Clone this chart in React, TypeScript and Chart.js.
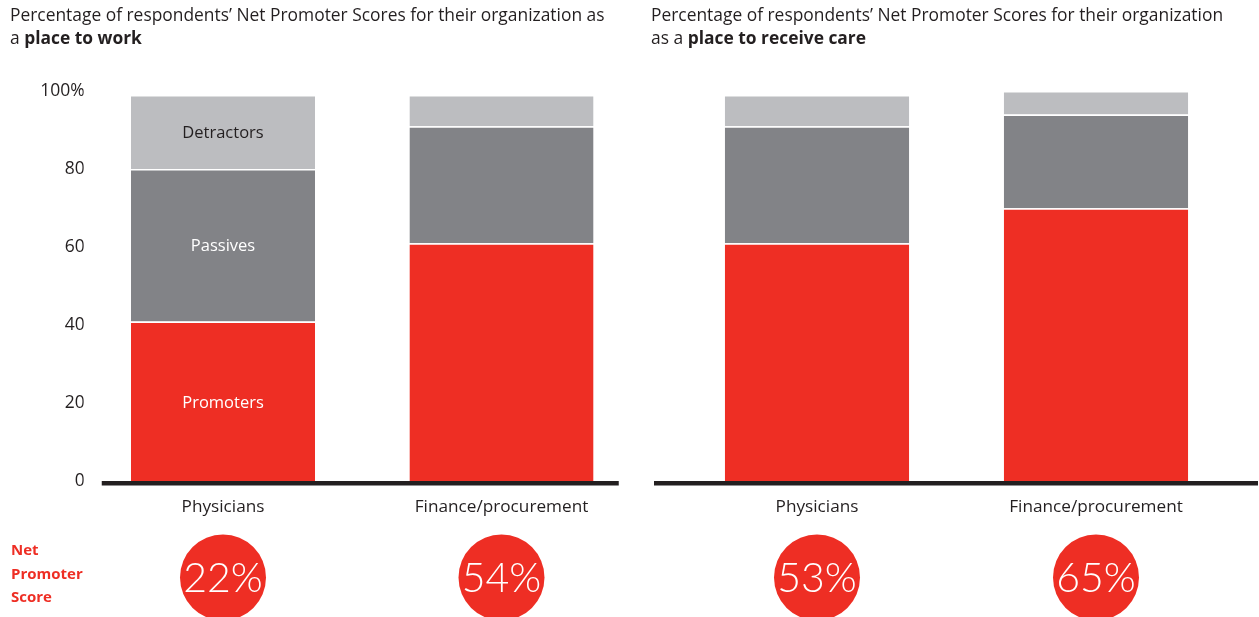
import React, { useEffect, useRef } from "react";
import { Chart, registerables } from "chart.js";

Chart.register(...registerables);

const categories = ["Physicians", "Finance/procurement"];
const segmentNames = ["Promoters", "Passives", "Detractors"];

const workPromoters = [41, 61];
const workPassives = [39, 30];
const workDetractors = [19, 8];
const workNps = [22, 54];

const carePromoters = [61, 70];
const carePassives = [30, 24];
const careDetractors = [8, 6];
const careNps = [53, 65];

const yTicks = [0, 20, 40, 60, 80, 100];

const RED = "#EE2E24";
const DARK = "#828387";
const LIGHT = "#BCBDC0";
const INK = "#231F20";
const FONT = "'Open Sans', Lato, sans-serif";
const NUMFONT = "Lato, 'Open Sans', sans-serif";

const overlayPlugin = {
  id: "overlay",
  afterDatasetsDraw(chart: any, _args: any, opts: any) {
    const { ctx, chartArea, scales } = chart;
    const x = scales.x;
    ctx.save();
    // baseline
    ctx.fillStyle = INK;
    const bl = chartArea.left + opts.baseFrom;
    const br = chartArea.right + opts.baseTo;
    ctx.fillRect(bl, chartArea.bottom - 0.5, br - bl, 4.5);
    // segment labels in first bar
    if (opts.showSegLabels) {
      chart.data.datasets.forEach((ds: any, di: number) => {
        const meta = chart.getDatasetMeta(di);
        const el = meta.data[0];
        const yMid = (el.y + el.base) / 2;
        ctx.font = `16.5px ${FONT}`;
        ctx.textAlign = "center";
        ctx.textBaseline = "middle";
        ctx.fillStyle = di === 2 ? INK : "#FFFFFF";
        ctx.fillText(ds.label, el.x, yMid + 1.5);
      });
    }
    // NPS circles
    const nps: number[] = opts.nps;
    nps.forEach((v, i) => {
      const cx = x.getPixelForValue(i);
      const cy = chartArea.bottom + opts.circleOffset;
      ctx.beginPath();
      ctx.arc(cx, cy, 43, 0, Math.PI * 2);
      ctx.fillStyle = RED;
      ctx.fill();
      ctx.fillStyle = "#FFFFFF";
      ctx.font = `300 41px ${NUMFONT}`;
      ctx.textAlign = "center";
      ctx.textBaseline = "middle";
      ctx.fillText(`${v}%`, cx, cy + 1);
    });
    ctx.restore();
  },
};

function makeConfig(
  prom: number[],
  pass: number[],
  det: number[],
  nps: number[],
  showY: boolean,
  padding: any,
  baseFrom: number,
  baseTo: number
): any {
  const seg = (label: string, data: number[], color: string) => ({
    label,
    data,
    backgroundColor: color,
    borderColor: "#FFFFFF",
    borderWidth: { top: 1.5, bottom: 0, left: 0, right: 0 },
    borderSkipped: false,
    barPercentage: 0.661,
    categoryPercentage: 1,
  });
  return {
    type: "bar",
    data: {
      labels: categories,
      datasets: [
        seg(segmentNames[0], prom, RED),
        seg(segmentNames[1], pass, DARK),
        seg(segmentNames[2], det, LIGHT),
      ],
    },
    options: {
      animation: false,
      responsive: false,
      maintainAspectRatio: false,
      layout: { padding },
      plugins: {
        legend: { display: false },
        tooltip: { enabled: false },
        title: { display: false },
        overlay: { nps, showSegLabels: showY, baseFrom, baseTo, circleOffset: 96 },
      },
      scales: {
        x: {
          stacked: true,
          grid: { display: false, drawTicks: false },
          border: { display: false },
          ticks: { color: INK, font: { family: FONT, size: 17.2 }, padding: 15 },
          afterFit(scale: any) {
            scale.height = 40;
          },
        },
        y: {
          stacked: true,
          display: showY,
          min: 0,
          max: 100,
          afterBuildTicks(scale: any) {
            scale.ticks = yTicks.map((v) => ({ value: v }));
          },
          grid: { display: false, drawTicks: false },
          border: { display: false },
          ticks: {
            color: INK,
            font: { family: FONT, size: 17.5 },
            padding: -1,
            callback: (v: any) => (v === 100 ? "100%" : String(v)),
          },
          afterFit(scale: any) {
            scale.width = showY ? 83.75 : 0;
          },
        },
      },
    },
    plugins: [overlayPlugin],
  };
}

export default function App() {
  const leftRef = useRef<HTMLCanvasElement>(null);
  const rightRef = useRef<HTMLCanvasElement>(null);

  useEffect(() => {
    const c1 = new Chart(
      leftRef.current as HTMLCanvasElement,
      makeConfig(
        workPromoters,
        workPassives,
        workDetractors,
        workNps,
        true,
        { left: 0, right: 9.25, top: 91, bottom: 95.5 },
        18,
        -22
      )
    );
    const c2 = new Chart(
      rightRef.current as HTMLCanvasElement,
      makeConfig(
        carePromoters,
        carePassives,
        careDetractors,
        careNps,
        false,
        { left: 27.5, right: 23.5, top: 91, bottom: 95.5 },
        -23.5,
        22.5
      )
    );
    return () => {
      c1.destroy();
      c2.destroy();
    };
  }, []);

  const titleStyle: React.CSSProperties = {
    position: "absolute",
    top: 3,
    fontFamily: FONT,
    fontSize: 17.4,
    lineHeight: "23px",
    color: INK,
    whiteSpace: "nowrap",
  };

  return (
    <div
      style={{
        position: "fixed",
        left: 0,
        top: 0,
        width: 1259,
        height: 617,
        background: "#FFFFFF",
        overflow: "hidden",
      }}
    >
      <canvas
        ref={leftRef}
        width={650}
        height={617}
        style={{ position: "absolute", left: 0, top: 0, width: 650, height: 617 }}
      />
      <canvas
        ref={rightRef}
        width={609}
        height={617}
        style={{ position: "absolute", left: 650, top: 0, width: 609, height: 617 }}
      />
      <div style={{ ...titleStyle, left: 10 }}>
        Percentage of respondents’ Net Promoter Scores for their organization as
        <br />a <b>place to work</b>
      </div>
      <div style={{ ...titleStyle, left: 651 }}>
        Percentage of respondents’ Net Promoter Scores for their organization
        <br />as a <b>place to receive care</b>
      </div>
      <div
        style={{
          position: "absolute",
          left: 11,
          top: 538,
          fontFamily: FONT,
          fontSize: 15,
          fontWeight: 700,
          lineHeight: "23.5px",
          color: RED,
        }}
      >
        Net
        <br />
        Promoter
        <br />
        Score
      </div>
    </div>
  );
}
